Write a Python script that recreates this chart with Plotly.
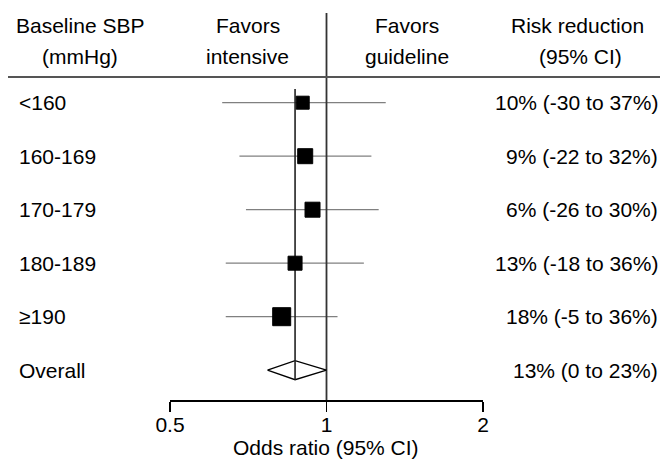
import math
import plotly.graph_objects as go

# ---- data ----
groups = ["<160", "160-169", "170-179", "180-189", "≥190"]
odds_ratio = [0.90, 0.91, 0.94, 0.87, 0.82]
ci_low = [0.63, 0.68, 0.70, 0.64, 0.64]
ci_high = [1.30, 1.22, 1.26, 1.18, 1.05]
weights = [13, 15, 15, 14, 18]
risk_text = ["10% (-30 to 37%)", "9% (-22 to 32%)", "6% (-26 to 30%)",
             "13% (-18 to 36%)", "18% (-5 to 36%)"]
overall_label = "Overall"
overall_or = 0.87
overall_low = 0.77
overall_high = 1.00
overall_text = "13% (0 to 23%)"
tick_vals = [0.5, 1, 2]
tick_text = ["0.5", "1", "2"]

FONT = "Liberation Sans, Arial, Helvetica, sans-serif"
FS = 21
W, H = 660, 460
PLOT_H = 400          # plot area height in px (bottom margin 60)
ROW0, ROWSTEP = 102.7, 53.5


def ydat(px):
    return (px - ROW0) / ROWSTEP


fig = go.Figure()
rows = list(range(len(groups)))
ov_row = len(groups)

# CI lines
for i in rows:
    fig.add_trace(go.Scatter(x=[ci_low[i], ci_high[i]], y=[i, i], mode="lines",
                             line=dict(color="#808080", width=1.2),
                             hoverinfo="skip", showlegend=False))

# reference line at OR = 1
fig.add_trace(go.Scatter(x=[1, 1], y=[ydat(13), ydat(400)], mode="lines",
                         line=dict(color="#333333", width=1.8),
                         hoverinfo="skip", showlegend=False))

# diamond
hh = 9.5 / ROWSTEP
fig.add_trace(go.Scatter(x=[overall_low, overall_or, overall_high, overall_or, overall_low],
                         y=[ov_row, ov_row - hh, ov_row, ov_row + hh, ov_row],
                         mode="lines", fill="toself", fillcolor="white",
                         line=dict(color="black", width=1.3),
                         hoverinfo="skip", showlegend=False))

# overall estimate line
fig.add_trace(go.Scatter(x=[overall_or, overall_or], y=[ydat(89), ov_row + hh], mode="lines",
                         line=dict(color="#222222", width=1.6),
                         hoverinfo="skip", showlegend=False))

# squares
fig.add_trace(go.Scatter(x=odds_ratio, y=rows, mode="markers",
                         marker=dict(symbol="square", size=weights, color="#000000",
                                     opacity=1, line=dict(width=1, color="#000000")),
                         hoverinfo="skip", showlegend=False))

ann = []
def txt(x, y, s, xanchor="left", yref="y", size=FS):
    ann.append(dict(x=x, y=y, xref="paper", yref=yref, text=s, showarrow=False,
                    xanchor=xanchor, yanchor="middle", borderpad=0,
                    font=dict(family=FONT, size=size, color="black")))

for i in rows:
    txt(18 / W, i, groups[i])
    txt(659 / W, i, risk_text[i], xanchor="right")
txt(18 / W, ov_row, overall_label)
txt(659 / W, ov_row, overall_text, xanchor="right")

def py(px):
    return 1 - px / PLOT_H

# headers
txt(80 / W, py(25), "Baseline SBP", xanchor="center", yref="paper")
txt(80 / W, py(56), "(mmHg)", xanchor="center", yref="paper")
txt(248 / W, py(25), "Favors", xanchor="center", yref="paper")
txt(248 / W, py(56), "intensive", xanchor="center", yref="paper")
txt(407 / W, py(25), "Favors", xanchor="center", yref="paper")
txt(407 / W, py(56), "guideline", xanchor="center", yref="paper")
txt(577 / W, py(25), "Risk reduction", xanchor="center", yref="paper")
txt(580 / W, py(56), "(95% CI)", xanchor="center", yref="paper")
txt(326 / W, py(447), "Odds ratio (95% CI)", xanchor="center", yref="paper")

fig.update_layout(
    template="none",
    width=W, height=H, autosize=False,
    margin=dict(l=0, r=0, t=0, b=H - PLOT_H, pad=0, autoexpand=False),
    paper_bgcolor="white", plot_bgcolor="white",
    showlegend=False,
    annotations=ann,
    shapes=[dict(type="line", xref="paper", yref="paper", x0=8 / W, x1=1,
                 y0=py(77), y1=py(77), line=dict(color="#555555", width=2))],
    xaxis=dict(type="log", domain=[170 / W, 483 / W], automargin=False,
               range=[math.log10(0.5), math.log10(2)],
               tickvals=tick_vals, ticktext=tick_text,
               ticks="outside", ticklen=10, tickwidth=1.5, tickcolor="black",
               ticklabelstandoff=-5,
               showline=True, linecolor="black", linewidth=1.5,
               showgrid=False, zeroline=False,
               tickfont=dict(family=FONT, size=FS, color="black")),
    yaxis=dict(range=[ydat(PLOT_H), ydat(0)], visible=False, showgrid=False,
               zeroline=False, automargin=False),
)

fig.write_html("out.html", config={"displayModeBar": False, "staticPlot": True},
               post_script="document.body.style.margin='0';document.body.style.padding='0';")
